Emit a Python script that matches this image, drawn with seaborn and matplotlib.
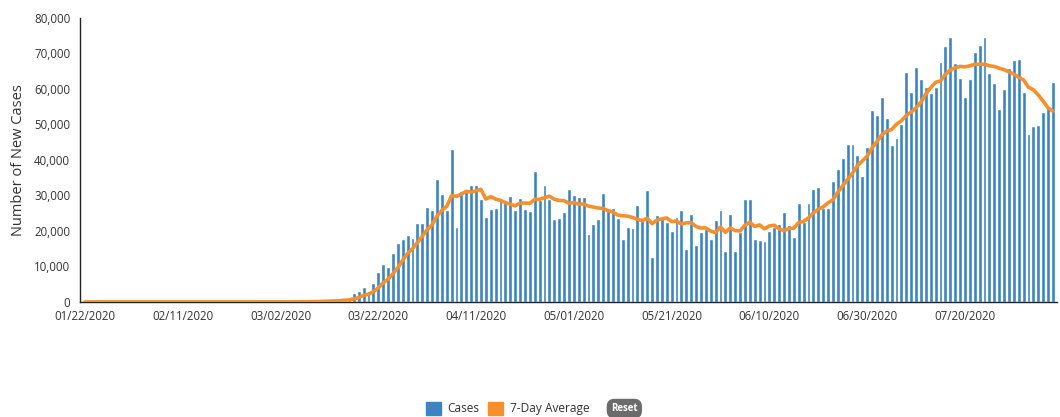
import numpy as np
import pandas as pd
import matplotlib
matplotlib.use('Agg')
import matplotlib.pyplot as plt
import matplotlib.ticker as mticker
from matplotlib.patches import Patch
import seaborn as sns

# daily new cases, one value per day starting 01/22/2020
cases = [
    # 01/22 - 02/29
    1, 0, 1, 0, 2, 0, 0, 0, 0, 1, 1, 1, 0, 0, 3, 0, 0, 0, 0, 0,
    1, 0, 0, 0, 0, 0, 0, 0, 2, 0, 0, 0, 14, 0, 0, 0, 1, 3, 5,
    # 03/01 - 03/14
    8, 20, 25, 30, 60, 50, 120, 110, 90, 300, 320, 400, 480, 550,
    # 03/15 - 04/18
    1040, 700, 2450, 3100, 4320, 3100, 5450, 8550, 10610, 9770,
    13700, 16530, 17650, 18870, 17930, 22350, 22350, 26850, 25900, 34740,
    30420, 25900, 43100, 21220, 31360, 31360, 33050, 33050, 28920, 23850,
    26100, 26390, 28920, 28540, 29860,
    # 04/19 - 05/23
    25920, 29200, 26200, 25630, 36810, 28730, 32960, 28920, 23290, 23760,
    25260, 31740, 30140, 29480, 29480, 19060, 21970, 23290, 30800, 25920,
    26570, 23570, 17750, 21220, 20750, 27230, 23100, 31550, 12770, 24510,
    23760, 22630, 20090, 24040, 25920,
    # 05/24 - 06/29
    15020, 24790, 16150, 19630, 20470, 17650, 23100, 25920, 14370, 24790,
    14370, 19810, 28920, 28920, 17650, 17370, 17090, 20090, 21030, 21970,
    25260, 21690, 18400, 27980, 22500, 27790, 31920, 32300, 26390, 26390,
    34180, 37370, 40470, 44410, 44410, 41320, 35580,
    # 06/30 - 08/07
    43570, 54090, 52580, 57840, 51930, 44130, 46290, 50140, 64700, 59250,
    66290, 62820, 60480, 58790, 60670, 67510, 72110, 74740, 67420, 63200,
    57840, 62820, 70330, 72400, 74740, 64420, 61790, 54460, 59910, 65830,
    68080, 68550, 59060, 47330, 49580, 49770, 53520, 55000, 62060,
]

tick_labels = ['01/22/2020', '02/11/2020', '03/02/2020', '03/22/2020', '04/11/2020',
               '05/01/2020', '05/21/2020', '06/10/2020', '06/30/2020', '07/20/2020']
tick_step = 20

bar_color = '#3b84c1'
line_color = '#f7902a'

sns.set_style('white')
plt.rcParams['font.family'] = ['Open Sans', 'DejaVu Sans']

df = pd.DataFrame({'day': np.arange(len(cases)), 'cases': cases})
df['avg'] = df['cases'].rolling(7, min_periods=1).mean()

fig, ax = plt.subplots(figsize=(10.6, 4.17), dpi=100)
fig.subplots_adjust(left=0.0755, right=0.997, top=0.957, bottom=0.276)

sns.barplot(data=df, x='day', y='cases', color=bar_color, saturation=1,
            width=0.8, native_scale=True, ax=ax)
sns.lineplot(data=df, x='day', y='avg', color=line_color, linewidth=2.6,
             solid_capstyle='round', ax=ax, zorder=3)

n = len(cases)
ax.set_xlim(-1, n - 0.2)
ax.set_ylim(0, 80000)
ax.set_xticks(np.arange(0, tick_step * len(tick_labels), tick_step))
ax.set_xticklabels(tick_labels)
ax.set_xticks(np.arange(n), minor=True)
ax.set_yticks(np.arange(0, 80001, 10000))
ax.yaxis.set_major_formatter(mticker.FuncFormatter(lambda v, p: f'{v:,.0f}'))

ax.tick_params(axis='both', which='both', direction='out', color='#222222',
               width=0.8, labelsize=8.3, labelcolor='#333333')
ax.tick_params(axis='x', which='both', length=5, pad=1)
ax.tick_params(axis='y', which='major', length=5, pad=2)
ax.set_xlabel('')
ax.set_ylabel('Number of New Cases', fontsize=10.5, color='#333333', labelpad=6)

sns.despine(ax=ax)
for side in ['left', 'bottom']:
    ax.spines[side].set_color('#222222')
    ax.spines[side].set_linewidth(1.0)

handles = [Patch(color=bar_color, label='Cases'),
           Patch(color=line_color, label='7-Day Average')]
fig.legend(handles=handles, loc='center', bbox_to_anchor=(0.479, 0.02), ncol=2,
           frameon=False, fontsize=8.6, handlelength=1.25, handleheight=1.25,
           handletextpad=0.6, columnspacing=0.7, labelcolor='#333333')
fig.text(0.589, 0.02, 'Reset', ha='center', va='center', fontsize=7,
         color='white', fontweight='bold',
         bbox=dict(boxstyle='round,pad=0.45,rounding_size=0.8', fc='#6b6b6b', ec='none'))

fig.savefig('out.png', dpi=100)
